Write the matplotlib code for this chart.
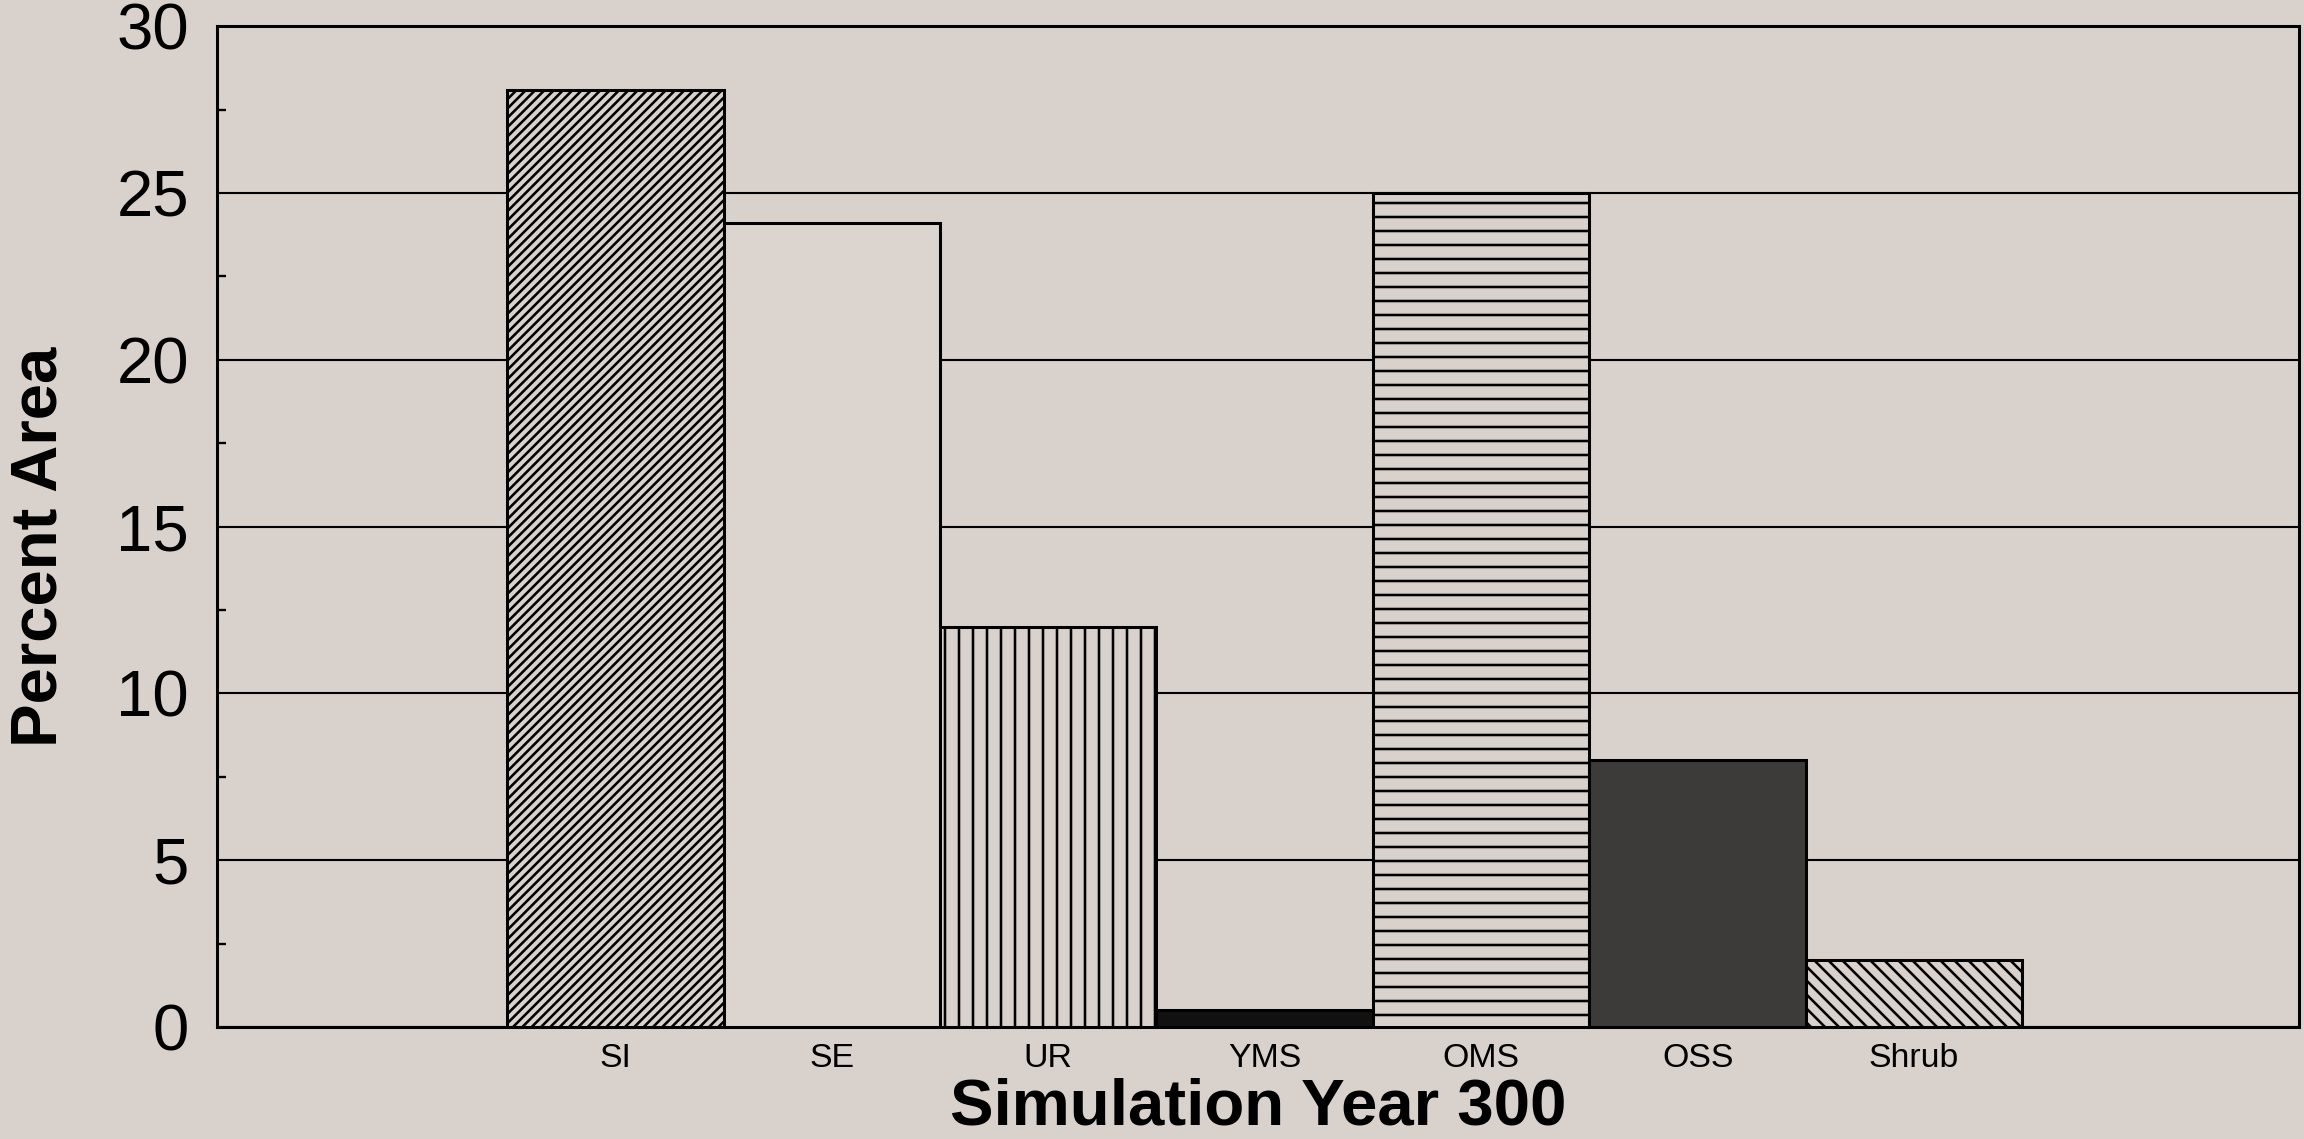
import matplotlib.pyplot as plt

# data
categories = ['SI', 'SE', 'UR', 'YMS', 'OMS', 'OSS', 'Shrub']
percent_area = [28.1, 24.1, 12.0, 0.5, 25.0, 8.0, 2.0]
hatches = ['//////', '', '||', '', '--', '', '\\\\\\\\']
fills = ['#d9d1cb', '#dcd5cf', '#d9d1cb', '#111111', '#d9d1cb', '#3d3b3a', '#d9d1cb']
yticks = [0, 5, 10, 15, 20, 25, 30]
minor_yticks = [2.5, 7.5, 12.5, 17.5, 22.5, 27.5]

paper = '#d9d1cb'
plt.rcParams['font.family'] = ['Liberation Sans', 'DejaVu Sans']
plt.rcParams['hatch.linewidth'] = 1.1

DPI = 168
fig = plt.figure(figsize=(2304 / DPI, 1139 / DPI), dpi=DPI, facecolor=paper)
ax = fig.add_axes([0.0942, 0.0983, 0.9038, 0.8787])
ax.set_facecolor(paper)

# bars, all touching each other
bars = ax.bar(range(len(categories)), percent_area, width=1.0, color=fills,
              edgecolor='black', linewidth=1.3, zorder=3)
for b, h in zip(bars, hatches):
    if h:
        b.set_hatch(h)

ax.set_xlim(-1.84, 7.78)
ax.set_ylim(0, 30)
ax.set_xticks(range(len(categories)))
ax.set_xticklabels(categories)
ax.set_yticks(yticks)
ax.set_yticks(minor_yticks, minor=True)

ax.yaxis.grid(True, color='black', linewidth=0.9)
ax.set_axisbelow(True)

for s in ax.spines.values():
    s.set_linewidth(1.3)
    s.set_color('black')

ax.tick_params(axis='x', length=0, labelsize=14.5, pad=7)
ax.tick_params(axis='y', which='major', length=0, labelsize=28, pad=12)
ax.tick_params(axis='y', which='minor', direction='in', length=4, width=1)

ax.set_xlabel('Simulation Year 300', fontsize=28, fontweight='bold')
ax.xaxis.set_label_coords(0.5, -0.05)
ax.set_ylabel('Percent Area', fontsize=28, fontweight='bold')
ax.yaxis.set_label_coords(-0.071, 0.48)

# render
plt.savefig('out.png', dpi=DPI, facecolor=paper)
